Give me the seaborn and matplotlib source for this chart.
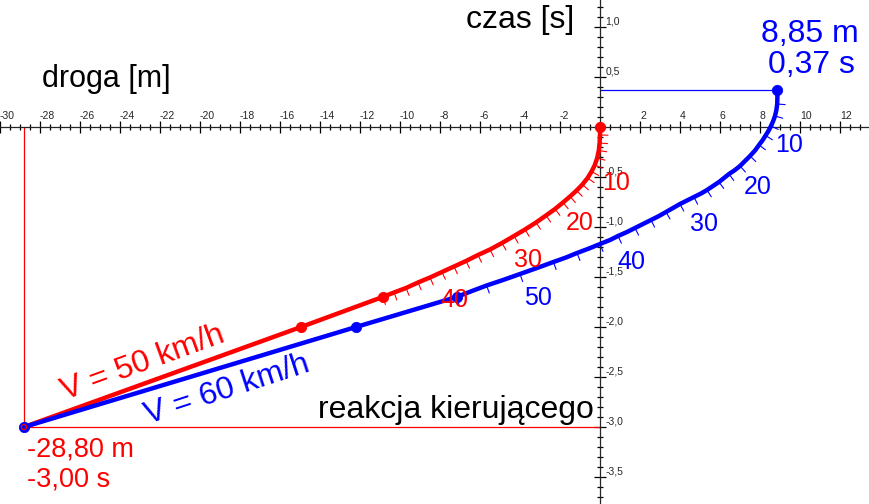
import numpy as np
import pandas as pd
import matplotlib
matplotlib.use('Agg')
import matplotlib.pyplot as plt
from matplotlib.ticker import FuncFormatter
import seaborn as sns

sns.set_style('white')
plt.rcParams['font.family'] = ['Liberation Sans', 'DejaVu Sans']

# values: droga [m] (x) vs czas [s] (t)
red_x = [-28.8, -14.95, -10.87, -10.3, -9.7, -9.1, -8.5, -7.9, -7.3, -6.7, -6.1, -5.5,
         -4.9, -4.3, -3.75, -3.2, -2.7, -2.25, -1.85, -1.5, -1.17, -0.88, -0.62, -0.42,
         -0.26, -0.14, -0.06, -0.02, 0.0, 0.0]
red_t = [-3.0, -2.0, -1.70, -1.655, -1.61, -1.555, -1.505, -1.45, -1.395, -1.34, -1.28,
         -1.225, -1.16, -1.09, -1.025, -0.955, -0.885, -0.82, -0.755, -0.695, -0.635,
         -0.575, -0.51, -0.445, -0.38, -0.31, -0.235, -0.16, -0.08, 0.0]
blue_x = [-28.8, -12.2, -7.17, -6.4, -5.67, -4.85, -4.0, -3.15, -2.33, -1.7, -1.15, -0.55,
          0.0, 0.5, 0.9, 1.35, 1.75, 2.15, 2.55, 2.95, 3.3, 3.65, 4.0, 4.35, 4.7, 5.05,
          5.35, 5.65, 5.95, 6.2, 6.45, 6.75, 7.0, 7.25, 7.5, 7.75, 7.95, 8.12, 8.28, 8.42,
          8.55, 8.66, 8.75, 8.82, 8.86, 8.87, 8.85]
blue_t = [-3.0, -2.0, -1.70, -1.64, -1.585, -1.53, -1.47, -1.41, -1.35, -1.305, -1.26,
          -1.215, -1.17, -1.13, -1.09, -1.05, -1.01, -0.97, -0.93, -0.89, -0.85, -0.81,
          -0.77, -0.735, -0.70, -0.665, -0.63, -0.59, -0.55, -0.51, -0.47, -0.43, -0.39,
          -0.34, -0.29, -0.235, -0.18, -0.135, -0.085, -0.04, 0.01, 0.06, 0.11, 0.17,
          0.23, 0.30, 0.37]
brake_start = 2  # index where braking begins (speed scale marks)

red_pts_x = [0.0, -14.95, -10.87]
red_pts_t = [0.0, -2.0, -1.70]
blue_pts_x = [8.85, -12.2, -7.17, -28.8]
blue_pts_t = [0.37, -2.0, -1.70, -3.0]

start_x, start_t = -28.8, -3.0
end_x, end_t = 8.85, 0.37

speed_labels = ['10', '20', '30', '40', '50']
red_speed_pos = [(616, 183), (580, 223), (528, 260), (454, 300)]
blue_speed_pos = [(789, 145), (758, 187), (704, 224), (631, 262), (538, 298)]

W, H = 869, 504
XMIN, XMAX = -30, 13.45
YMIN, YMAX = -3.77, 1.27
PX_X = W / (XMAX - XMIN)
PX_Y = H / (YMAX - YMIN)

fig = plt.figure(figsize=(W / 100, H / 100), dpi=100)
ax = fig.add_axes([0, 0, 1, 1])
ax.set_xlim(XMIN, XMAX)
ax.set_ylim(YMIN, YMAX)

# axes crossing at origin, GeoGebra style
ax.spines['left'].set_visible(False)
ax.spines['bottom'].set_visible(False)
ax.spines['top'].set_position(('data', 0))
ax.spines['right'].set_position(('data', 0))
for s in ['top', 'right']:
    ax.spines[s].set_linewidth(0.9)
ax.xaxis.tick_top()
ax.yaxis.tick_right()
ax.set_xticks(np.arange(-30, 13.5, 2))
ax.set_xticks(np.arange(-30, 13.5, 0.5), minor=True)
ax.set_yticks(np.arange(-3.5, 1.01, 0.5))
ax.set_yticks(np.arange(-3.7, 1.25, 0.1), minor=True)
ax.xaxis.set_major_formatter(FuncFormatter(
    lambda v, p: '' if abs(v) < 1e-9 else '%d' % round(v)))
ax.yaxis.set_major_formatter(FuncFormatter(
    lambda v, p: '' if abs(v) < 1e-9 else ('%.1f' % v).replace('.', ',')))
ax.tick_params(which='major', direction='inout', length=8, width=0.9, color='black')
ax.tick_params(which='minor', direction='inout', length=4.5, width=0.9, color='black')
ax.tick_params(axis='x', labelsize=7.5, pad=0.5)
ax.tick_params(axis='y', labelsize=7.5, pad=0)
for lab in ax.get_xticklabels():
    lab.set_ha('left')
for lab in ax.get_yticklabels():
    lab.set_va('bottom')

# thin guide lines
ax.plot([start_x, start_x], [start_t, 0], color='red', lw=0.9)
ax.plot([start_x, 0], [start_t, start_t], color='red', lw=0.9)
ax.plot([0, end_x], [end_t, end_t], color='blue', lw=0.9)

red_df = pd.DataFrame({'droga': red_x, 'czas': red_t})
blue_df = pd.DataFrame({'droga': blue_x, 'czas': blue_t})
for df, c in [(red_df, 'red'), (blue_df, 'blue')]:
    sns.lineplot(data=df, x='droga', y='czas', sort=False, estimator=None,
                 color=c, lw=3.2, ax=ax, zorder=4,
                 solid_joinstyle='round', solid_capstyle='round')


def hatches(xs, ts, color, step):
    xs = np.array(xs)
    ts = np.array(ts)
    for i in range(brake_start, len(xs) - 1, step):
        j0, j1 = max(i - 1, 0), min(i + 1, len(xs) - 1)
        tx = (xs[j1] - xs[j0]) * PX_X
        ty = (ts[j1] - ts[j0]) * PX_Y
        n = np.hypot(tx, ty)
        nx, ny = ty / n, -tx / n
        L = 8
        ax.plot([xs[i], xs[i] + nx * L / PX_X], [ts[i], ts[i] + ny * L / PX_Y],
                color=color, lw=0.8, zorder=3)


hatches(red_x, red_t, 'red', 1)
hatches(blue_x, blue_t, 'blue', 2)

sns.scatterplot(x=red_pts_x, y=red_pts_t, color='red', s=55, edgecolor='red',
                ax=ax, zorder=5)
sns.scatterplot(x=blue_pts_x, y=blue_pts_t, color='blue', s=55, edgecolor='blue',
                ax=ax, zorder=5)
ax.scatter([start_x], [start_t], s=14, facecolor='none', edgecolor='red', lw=0.9, zorder=6)


def ptext(px, py, s, **kw):
    ax.text(px / W, 1 - py / H, s, transform=ax.transAxes, **kw)


big = 23
ptext(520, 20, 'czas [s]', fontsize=big, ha='center', va='center', color='black')
ptext(106, 79, 'droga [m]', fontsize=22, ha='center', va='center', color='black')
ptext(810, 34, '8,85 m', fontsize=big, ha='center', va='center', color='blue')
ptext(811, 65, '0,37 s', fontsize=big, ha='center', va='center', color='blue')
ptext(27, 449, '-28,80 m', fontsize=19.5, ha='left', va='center', color='red')
ptext(27, 479, '-3,00 s', fontsize=19.5, ha='left', va='center', color='red')
ptext(318, 410, 'reakcja kierującego', fontsize=big, ha='left', va='center',
      color='black', zorder=7)
ptext(143, 363, 'V = 50 km/h', fontsize=big, ha='center', va='center', color='red',
      rotation=20, rotation_mode='anchor')
ptext(227, 390, 'V = 60 km/h', fontsize=big, ha='center', va='center', color='blue',
      rotation=18, rotation_mode='anchor')

for lab, (px, py) in zip(speed_labels, red_speed_pos):
    ptext(px, py, lab, fontsize=18, ha='center', va='center', color='red', zorder=7)
for lab, (px, py) in zip(speed_labels, blue_speed_pos):
    ptext(px, py, lab, fontsize=18, ha='center', va='center', color='blue', zorder=7)

fig.savefig('out.png', dpi=100, facecolor='white')
